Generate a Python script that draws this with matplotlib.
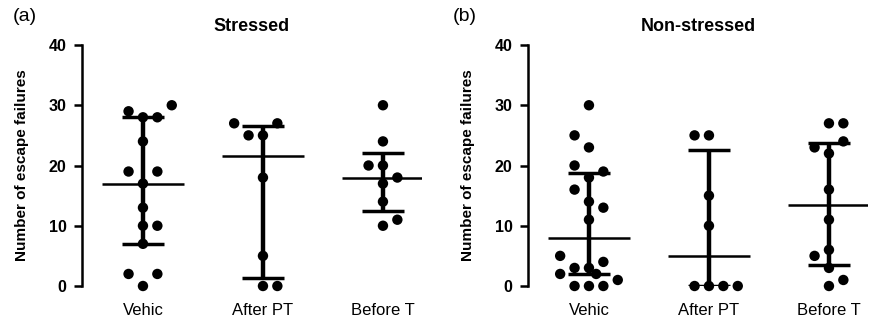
# Escape failures per group, shown as dots with median and interquartile range
# (GraphPad Prism style), for stressed and non-stressed animals.

import numpy as np
import matplotlib.pyplot as plt

plt.rcParams['font.family'] = ['Liberation Sans', 'DejaVu Sans']

groups = ["Vehic", "After PT", "Before T"]

# Stressed animals: values per group
stressed_vehic = [29, 28, 28, 30, 24, 19, 19, 17, 13, 10, 10, 7, 2, 2, 0]
stressed_after = [27, 27, 25, 25, 18, 5, 0, 0]
stressed_before = [30, 24, 20, 20, 18, 17, 14, 11, 10]

# Non-stressed animals: values per group
nonstr_vehic = [30, 25, 23, 20, 19, 18, 16, 14, 13, 11,
                5, 4, 3, 3, 2, 2, 1, 0, 0, 0]
nonstr_after = [25, 25, 15, 10, 0, 0, 0, 0]
nonstr_before = [27, 27, 24, 23, 22, 16, 11, 6, 5, 3, 1, 0]

# Horizontal lane of each dot (the scatter arrangement in the original)
lanes_stressed = [
    [-1, 0, 1, 2, 0, -1, 1, 0, 0, 0, 1, 0, -1, 1, 0],
    [-2, 1, -1, 0, 0, 0, 0, 1],
    [0, 0, -1, 0, 1, 0, 0, 1, 0],
]
lanes_nonstr = [
    [0, -1, 0, -1, 1, 0, -1, 0, 1, 0, -2, 1, -1, 0, -2, 0.5, 2, -1, 0, 1],
    [-1, 0, 0, 0, -1, 0, 1, 2],
    [0, 1, 1, -1, 0, 0, 0, 0, -1, 0, 1, 0],
]

panels = [
    ("(a)", "Stressed", [stressed_vehic, stressed_after, stressed_before], lanes_stressed),
    ("(b)", "Non-stressed", [nonstr_vehic, nonstr_after, nonstr_before], lanes_nonstr),
]

fig = plt.figure(figsize=(8.74, 3.21), dpi=100)

lane_w = 0.12
axes_left = [82 / 874, 528 / 874]
panel_letter_x = [13 / 874, 453 / 874]

for i, (letter, title, data, lanes) in enumerate(panels):
    ax = fig.add_axes([axes_left[i], 35 / 321, 340 / 874, 241 / 321])
    positions = np.arange(1, len(groups) + 1)

    for pos, vals, lane in zip(positions, data, lanes):
        vals = np.array(vals, dtype=float)
        q1, med, q3 = np.percentile(vals, [25, 50, 75], method='weibull')
        ax.vlines(pos, q1, q3, color='black', lw=3.2, zorder=2)
        ax.hlines([q1, q3], pos - 0.175, pos + 0.175, color='black', lw=2.5, zorder=2)
        ax.hlines(med, pos - 0.345, pos + 0.345, color='black', lw=1.8, zorder=2)
        xs = pos + np.array(lane) * lane_w
        ax.scatter(xs, vals, s=56, color='black', edgecolors='none',
                   zorder=3, clip_on=False)

    ax.set_xlim(0.492, 0.492 + 340 / 120)
    ax.set_ylim(0, 40)
    ax.set_yticks([0, 10, 20, 30, 40])
    ax.set_xticks(positions)
    ax.set_xticklabels(groups, fontsize=12)
    ax.tick_params(axis='x', length=0, pad=12)
    ax.tick_params(axis='y', length=6, width=1.8, pad=5, labelsize=11.5)
    for lab in ax.get_yticklabels():
        lab.set_fontweight('bold')

    for side in ['top', 'right', 'bottom']:
        ax.spines[side].set_visible(False)
    ax.spines['left'].set_linewidth(1.8)

    ax.set_ylabel("Number of escape failures", fontsize=11,
                  fontweight='bold', labelpad=14)
    ax.set_title(title, fontsize=13, fontweight='bold', pad=10)

    fig.text(panel_letter_x[i], 1 - 8 / 321, letter, fontsize=14,
             ha='left', va='top')

plt.savefig('out.png', dpi=100)
